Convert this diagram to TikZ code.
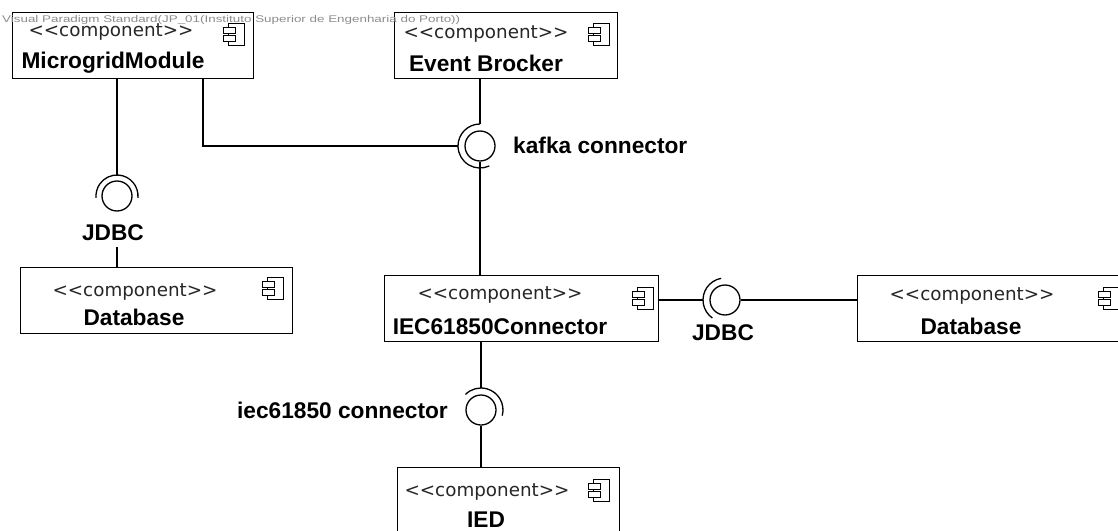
\documentclass[tikz,border=0pt]{standalone}
\usepackage{fontspec}
\usepackage{graphicx}
\setmainfont{Liberation Sans}
\newfontfamily\stfont{DejaVu Sans}
\begin{document}
\begin{tikzpicture}[x=1pt, y=-1pt,
  comp/.style={draw, line width=1.3pt, fill=white, inner sep=0, anchor=north west},
  stereo/.style={font=\stfont\fontsize{18.3}{22}\selectfont, text=black!85, anchor=base, inner sep=0},
  cname/.style={font=\fontsize{22.7}{26}\selectfont\bfseries, anchor=base, inner sep=0},
  lbl/.style={font=\fontsize{22.7}{26}\selectfont\bfseries, inner sep=0},
  wire/.style={line width=1.3pt},
  ball/.style={circle, draw, line width=1.3pt, minimum size=30pt, inner sep=0, fill=white},
  compicon/.pic={
    \draw[line width=1pt] (5,0) rectangle (21,22);
    \draw[line width=1pt, fill=white] (0,4) rectangle (12,10);
    \draw[line width=1pt, fill=white] (0,12) rectangle (12,18);
  }]
\useasboundingbox (0,0) rectangle (1118,530);
\clip (0,0) rectangle (1118,530);

% component boxes
\node[comp, minimum width=241pt, minimum height=66pt] (mm)  at (12,12)   {};
\node[comp, minimum width=223pt, minimum height=66pt] (eb)  at (394,12)  {};
\node[comp, minimum width=272pt, minimum height=66pt] (dbL) at (20,267)  {};
\node[comp, minimum width=274pt, minimum height=66pt] (iec) at (384,275) {};
\node[comp, minimum width=273pt, minimum height=66pt] (dbR) at (857,275) {};
\node[comp, minimum width=222pt, minimum height=80pt] (ied) at (397,467) {};

% component texts
\node[stereo] (mmS)  at (111,36)  {<<component>>};
\node[cname]  (mmN)  at (113,68)  {MicrogridModule};
\node[stereo] (ebS)  at (486,38)  {<<component>>};
\node[cname]  (ebN)  at (486,71)  {Event Brocker};
\node[stereo] (dbLS) at (135,296) {<<component>>};
\node[cname]  (dbLN) at (134,325) {Database};
\node[stereo] (iecS) at (500,299) {<<component>>};
\node[cname]  (iecN) at (500,334) {IEC61850Connector};
\node[stereo] (dbRS) at (972,300) {<<component>>};
\node[cname]  (dbRN) at (971,334) {Database};
\node[stereo] (iedS) at (487,496) {<<component>>};
\node[cname]  (iedN) at (486,527) {IED};

% component icons
\pic at (223,23)  {compicon};
\pic at (588,23)  {compicon};
\pic at (262,277) {compicon};
\pic at (632,287) {compicon};
\pic at (1098,287) {compicon};
\pic at (588,479) {compicon};

% provided interfaces (balls)
\node[ball] (jL) at (117,196) {};
\node[ball] (kb) at (480,146) {};
\node[ball] (jR) at (725,300) {};
\node[ball] (ib) at (481,410) {};

% required interfaces (sockets)
\draw[wire] ([shift={(-5:21pt)}]jL.center) arc[start angle=-5, end angle=185, radius=21pt];
\draw[wire] ([shift={(90:22pt)}]kb.center) arc[start angle=90, end angle=295, radius=22pt];
\draw[wire] ([shift={(100:22pt)}]jR.center) arc[start angle=100, end angle=235, radius=22pt];
\draw[wire] ([shift={(-15:22pt)}]ib.center) arc[start angle=-15, end angle=135, radius=22pt];

% interface labels
\node[lbl, anchor=base, inner ysep=7pt, inner xsep=2pt] (jLl) at (113,240) {JDBC};
\node[lbl, anchor=base west] (kbl) at (513,153) {kafka connector};
\node[lbl, anchor=base] (jRl) at (723,340) {JDBC};
\node[lbl, anchor=base east] (ibl) at (448,418) {iec61850 connector};

% connectors
\coordinate (kbend) at (203,146);
\draw[wire] (mm.south -| jL) -- ([yshift=21pt]jL.center);
\draw[wire] (jLl.south -| jL) -- (dbL.north -| jL);
\draw[wire] (kbend |- mm.south) -- (kbend) -- ([xshift=-22pt]kb.center);
\draw[wire] (eb.south -| kb) -- ([yshift=22pt]kb.center);
\draw[wire] (kb.south) -- (iec.north -| kb);
\draw[wire] (iec.east |- jR) -- ([xshift=-22pt]jR.center);
\draw[wire] (jR.east) -- (dbR.west |- jR);
\draw[wire] (iec.south -| ib) -- ([yshift=22pt]ib.center);
\draw[wire] (ib.south) -- (ied.north -| ib);

% edition banner
\node[anchor=base west, inner sep=0, text=black!45] (wm) at (2,22)
  {\resizebox{458pt}{7pt}{Visual Paradigm Standard(JP\_01(Instituto Superior de Engenharia do Porto))}};
\end{tikzpicture}
\end{document}
